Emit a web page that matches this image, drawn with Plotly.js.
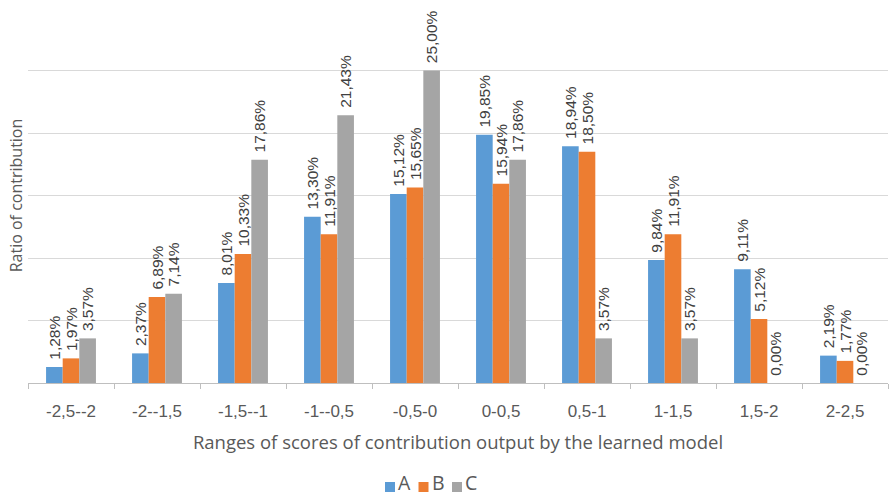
<!DOCTYPE html>
<html>
<head>
<meta charset="utf-8">
<script src="https://cdn.plot.ly/plotly-3.0.1.min.js"></script>
<style>
  html, body { margin: 0; padding: 0; background: #ffffff; }
  #chart { width: 891px; height: 497px; }
</style>
</head>
<body>
<div id="chart"></div>
<script>
// Score ranges (categories on the x axis)
const categories = ['-2,5--2', '-2--1,5', '-1,5--1', '-1--0,5', '-0,5-0', '0-0,5', '0,5-1', '1-1,5', '1,5-2', '2-2,5'];

// Ratio of contribution, in percent, per series
const seriesA = [1.28, 2.37, 8.01, 13.30, 15.12, 19.85, 18.94, 9.84, 9.11, 2.19];
const seriesB = [1.97, 6.89, 10.33, 11.91, 15.65, 15.94, 18.50, 11.91, 5.12, 1.77];
const seriesC = [3.57, 7.14, 17.86, 21.43, 25.00, 17.86, 3.57, 3.57, 0.00, 0.00];

const seriesNames = ['A', 'B', 'C'];
const seriesColors = ['#5B9BD5', '#ED7D31', '#A5A5A5'];

// Chart geometry (pixels)
const W = 891, H = 497;
const M = { l: 28, r: 3, t: 8, b: 114 };
const plotW = W - M.l - M.r;
const plotH = H - M.t - M.b;
const px2x = px => (px - M.l) / plotW;           // pixel -> paper x
const py2y = py => (H - M.b - py) / plotH;       // pixel -> paper y

// Value labels use a decimal comma; a leading no-break space lifts them off the bar top
const fmt = v => '\u00a0' + v.toFixed(2).replace('.', ',') + '%';

const traces = [seriesA, seriesB, seriesC].map((vals, i) => ({
  type: 'bar',
  name: seriesNames[i],
  x: categories,
  y: vals,
  text: vals.map(fmt),
  textposition: 'outside',
  textangle: -90,
  constraintext: 'none',
  cliponaxis: false,
  textfont: { family: 'Liberation Sans, Arial, sans-serif', size: 15.5, color: '#404040' },
  marker: { color: seriesColors[i], line: { width: 0 } },
  showlegend: false,
  hoverinfo: 'x+y+name'
}));

// Compact legend below the axis title: a coloured square and the series name
const legendY = 487;
const legendX0 = 385;
const legendStep = 33.5;
const legendBox = 10;
const legendShapes = seriesNames.map((n, i) => ({
  type: 'rect',
  xref: 'paper', yref: 'paper',
  x0: px2x(legendX0 + i * legendStep),
  x1: px2x(legendX0 + i * legendStep + legendBox),
  y0: py2y(legendY + legendBox / 2),
  y1: py2y(legendY - legendBox / 2),
  fillcolor: seriesColors[i],
  line: { width: 0 }
}));
const legendLabels = seriesNames.map((n, i) => ({
  xref: 'paper', yref: 'paper',
  x: px2x(legendX0 + i * legendStep + legendBox + 2),
  y: py2y(H),
  xanchor: 'left', yanchor: 'bottom',
  text: n,
  showarrow: false,
  borderpad: 0,
  font: { family: 'Open Sans, sans-serif', size: 19.5, color: '#595959' }
}));

const layout = {
  width: W,
  height: H,
  margin: M,
  paper_bgcolor: '#ffffff',
  plot_bgcolor: '#ffffff',
  barmode: 'group',
  bargap: 0.42,
  bargroupgap: 0,
  showlegend: false,
  shapes: legendShapes,
  annotations: legendLabels,
  xaxis: {
    type: 'category',
    showline: true,
    linecolor: '#BFBFBF',
    linewidth: 1,
    ticks: 'outside',
    tickson: 'boundaries',
    ticklen: 5,
    tickcolor: '#BFBFBF',
    ticklabelstandoff: 13,
    showgrid: false,
    tickfont: { family: 'Liberation Sans, Arial, sans-serif', size: 17, color: '#595959' },
    title: {
      text: 'Ranges of scores of contribution output by the learned model',
      font: { family: 'Open Sans, sans-serif', size: 18.5, color: '#595959' },
      standoff: 15
    }
  },
  yaxis: {
    range: [0, 30],
    dtick: 5,
    showticklabels: false,
    showgrid: true,
    gridcolor: '#D9D9D9',
    gridwidth: 1,
    zeroline: false,
    showline: false,
    title: {
      text: 'Ratio of contribution',
      font: { family: 'Open Sans, sans-serif', size: 16, color: '#595959' },
      standoff: 0
    }
  }
};

Plotly.newPlot('chart', traces, layout, { displayModeBar: false, staticPlot: true });
</script>
</body>
</html>
